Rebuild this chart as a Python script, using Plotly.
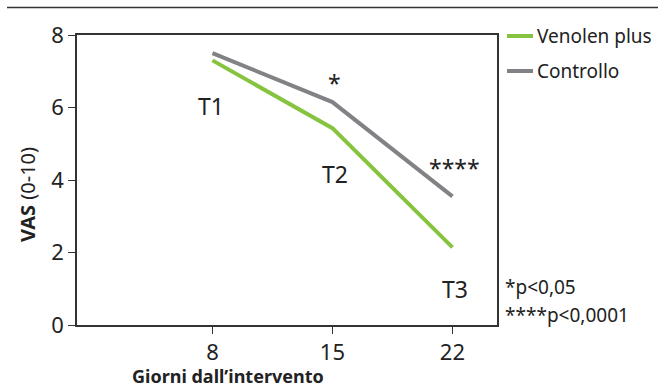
import plotly.graph_objects as go

days = [8, 15, 22]
venolen = [7.3, 5.43, 2.14]
controllo = [7.5, 6.15, 3.55]
timepoints = ["T1", "T2", "T3"]
sig_marks = ["", "*", "****"]
y_ticks = [0, 2, 4, 6, 8]

FONT = "Noto Sans"
GREEN = "#86c440"
GRAY = "#808285"
AX = "#333333"
TXT = "#222222"

W, H = 658, 388
# plot area in page pixels
PX0, PX1, PY0, PY1 = 77, 497, 35, 325


def px(x):
    return (x - PX0) / (PX1 - PX0)


def py(y):
    return (PY1 - y) / (PY1 - PY0)


fig = go.Figure()
fig.add_trace(go.Scatter(x=days, y=venolen, mode="lines", name="Venolen plus",
                         line=dict(color=GREEN, width=4), showlegend=False))
fig.add_trace(go.Scatter(x=days, y=controllo, mode="lines", name="Controllo",
                         line=dict(color=GRAY, width=4), showlegend=False))

# timepoint labels
tp_offsets = [(-0.08, -1.27), (0.15, -1.26), (0.15, -1.15)]
for d, v, t, (dx, dy) in zip(days, venolen, timepoints, tp_offsets):
    fig.add_annotation(x=d + dx, y=v + dy, text=t, showarrow=False,
                       font=dict(family=FONT, size=23, color=TXT))
sig_offsets = [0, 0.52, 0.78]
for d, c, s, dy in zip(days, controllo, sig_marks, sig_offsets):
    if s:
        fig.add_annotation(x=d + 0.1, y=c + dy, text=s, showarrow=False,
                           font=dict(family=FONT, size=23, color=TXT))

# legend (manual)
legend_items = [("Venolen plus", GREEN), ("Controllo", GRAY)]
for i, (name, col) in enumerate(legend_items):
    yp = 36 + i * 35
    fig.add_shape(type="line", xref="paper", yref="paper",
                  x0=px(507), x1=px(533), y0=py(yp), y1=py(yp),
                  line=dict(color=col, width=4))
    fig.add_annotation(xref="paper", yref="paper", x=px(535), y=py(yp),
                       text=name, showarrow=False, xanchor="left", yanchor="middle",
                       font=dict(family=FONT, size=19, color=TXT))

for txt, yp in [("*p<0,05", 287), ("****p<0,0001", 315)]:
    fig.add_annotation(xref="paper", yref="paper", x=px(503), y=py(yp),
                       text=txt, showarrow=False, xanchor="left", yanchor="middle",
                       font=dict(family=FONT, size=19, color=TXT))

# axis titles
fig.add_annotation(xref="paper", yref="paper", x=px(228), y=py(376),
                   text="<b>Giorni dall’intervento</b>", showarrow=False,
                   xanchor="center", yanchor="middle",
                   font=dict(family=FONT, size=18, color=TXT))
fig.add_annotation(xref="paper", yref="paper", x=px(27), y=py(195),
                   text="<b>VAS</b> (0-10)", showarrow=False, textangle=-90,
                   xanchor="center", yanchor="middle",
                   font=dict(family=FONT, size=20, color=TXT))

# top rule
fig.add_shape(type="line", xref="paper", yref="paper",
              x0=px(7), x1=px(670), y0=py(7.5), y1=py(7.5),
              line=dict(color=AX, width=1.5))

fig.update_xaxes(range=[0.1, 24.6], tickvals=days, ticktext=[str(d) for d in days],
                 showline=True, linecolor=AX, linewidth=1.5, mirror=True,
                 ticks="outside", ticklen=7, tickcolor=AX, showgrid=False, zeroline=False,
                 tickfont=dict(family=FONT, size=22, color=TXT))
fig.update_yaxes(range=[0, 8], tickvals=y_ticks,
                 showline=True, linecolor=AX, linewidth=1.5, mirror=True,
                 ticks="outside", ticklen=7, tickcolor=AX, showgrid=False, zeroline=False,
                 tickfont=dict(family=FONT, size=22, color=TXT))

fig.update_layout(width=W, height=H,
                  margin=dict(l=PX0, r=W - PX1, t=PY0, b=H - PY1),
                  plot_bgcolor="white", paper_bgcolor="white")

fig.write_html("out.html", config={"displayModeBar": False},
               post_script="document.body.style.margin='0';document.body.style.overflow='hidden';")
